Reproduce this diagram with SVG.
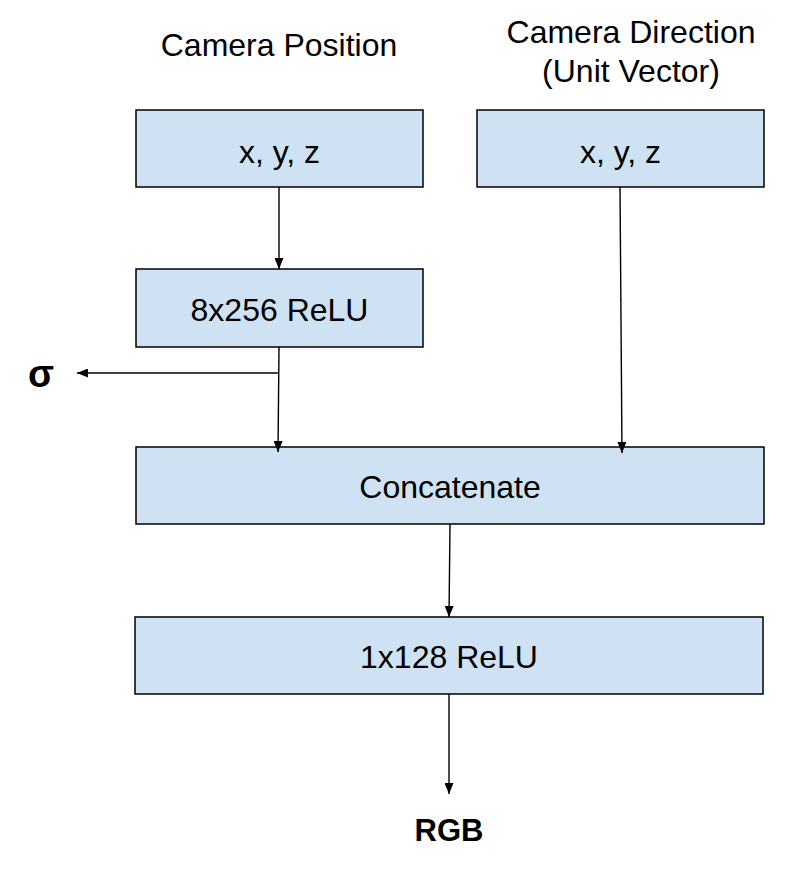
<svg xmlns="http://www.w3.org/2000/svg" width="806" height="878" viewBox="0 0 806 878">
<style>
.box{fill:#cfe2f3;stroke:#000;stroke-width:1.5}
.t{font-family:"Liberation Sans",Arial,sans-serif;font-size:32px;fill:#000;text-anchor:middle}
.b{font-weight:bold}
.c{fill:none;stroke:#000;stroke-width:1.4}
</style>
<defs>
<marker id="ah" markerUnits="userSpaceOnUse" markerWidth="11" markerHeight="9" refX="11" refY="4.5" orient="auto">
<path d="M0,0 L11,4.5 L0,9 z" fill="#000"/>
</marker>
</defs>
<rect width="806" height="878" fill="#fff"/>
<g id="labels">
<text class="t" x="279" y="56">Camera Position</text>
<text class="t" x="631" y="43">Camera Direction</text>
<text class="t" x="631" y="82">(Unit Vector)</text>
</g>
<g id="pos">
<rect class="box" x="136" y="110" width="287" height="77"/>
<text class="t" x="279.5" y="163">x, y, z</text>
</g>
<g id="dir">
<rect class="box" x="477" y="110" width="287" height="77"/>
<text class="t" x="620.5" y="163">x, y, z</text>
</g>
<g id="relu8">
<rect class="box" x="136" y="269" width="287" height="78"/>
<text class="t" x="279.5" y="321">8x256 ReLU</text>
</g>
<g id="concat">
<rect class="box" x="136" y="447" width="628" height="77"/>
<text class="t" x="450" y="498">Concatenate</text>
</g>
<g id="relu1">
<rect class="box" x="135" y="617" width="628" height="77"/>
<text class="t" x="449" y="668">1x128 ReLU</text>
</g>
<g id="sigma">
<text class="t b" x="41" y="387" style="font-size:38px">σ</text>
</g>
<g id="rgb">
<text class="t b" x="449" y="841" style="font-size:31px">RGB</text>
</g>
<g id="connectors">
<line class="c" x1="279" y1="187" x2="279" y2="269" marker-end="url(#ah)"/>
<line class="c" x1="279" y1="347" x2="278" y2="452" marker-end="url(#ah)"/>
<line class="c" x1="279" y1="373" x2="77" y2="373" marker-end="url(#ah)"/>
<line class="c" x1="620" y1="187" x2="622" y2="453" marker-end="url(#ah)"/>
<line class="c" x1="450" y1="524" x2="449" y2="617" marker-end="url(#ah)"/>
<line class="c" x1="449" y1="694" x2="449" y2="794" marker-end="url(#ah)"/>
</g>
</svg>
